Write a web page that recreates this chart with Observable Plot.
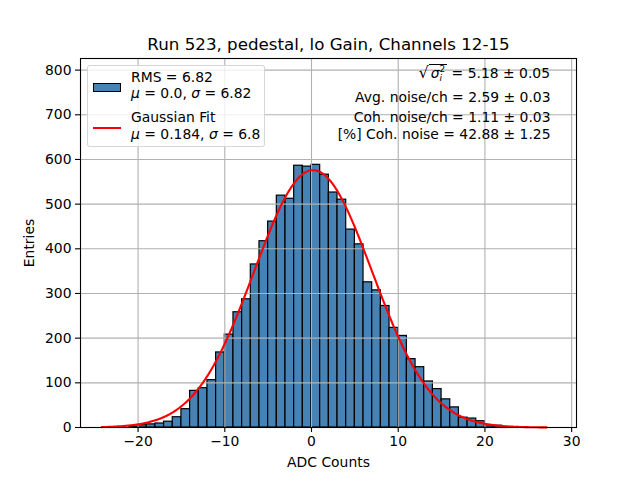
<!DOCTYPE html>
<html>
<head>
<meta charset="utf-8">
<script src="https://cdn.jsdelivr.net/npm/d3@7"></script>
<script src="https://cdn.jsdelivr.net/npm/@observablehq/plot@0.6"></script>
<style>
  html, body { margin: 0; padding: 0; background: white; }
  #wrap { position: relative; width: 640px; height: 480px; font-family: "DejaVu Sans", sans-serif; }
  #wrap svg { position: absolute; left: 0; top: 0; }
  .m { font-style: italic; }
  #legend { position: absolute; left: 87px; top: 65px; width: 178px; height: 82px;
            background: rgba(255,255,255,0.8); border: 1px solid rgba(204,204,204,0.8);
            border-radius: 3px; font-size: 13.9px; color: black; box-sizing: border-box; }
  #legend .t { position: absolute; left: 43px; line-height: 16px; white-space: nowrap; }
  #note1 { position: absolute; right: 90px; top: 62px; font-size: 13.9px; line-height: 22px; white-space: nowrap; }
</style>
</head>
<body>
<div id="wrap"></div>
<script>
// Histogram: lower edge of each 1-count-wide bin and its entries
const binLow = [-21,-20,-19,-18,-17,-16,-15,-14,-13,-12,-11,-10,-9,-8,-7,-6,-5,-4,-3,-2,-1,
                 0,1,2,3,4,5,6,7,8,9,10,11,12,13,14,15,16,17,18,19,20,21,22];
const entries = [2,5,7,9,13,23,41,82,88,106,168,208,258,287,365,417,461,519,512,586,584,
                 588,566,526,510,443,410,325,307,272,223,205,153,135,103,86,63,45,22,20,14,5,4,1];
const binWidth = 1;

// Gaussian fit parameters (from the legend) and amplitude
const fitMu = 0.184, fitSigma = 6.8, fitAmp = 576;
const fitXMin = -24.2, fitXMax = 27.1;

const xTicks = [-20, -10, 0, 10, 20, 30];
const yTicks = [0, 100, 200, 300, 400, 500, 600, 700, 800];

const titleText = "Run 523, pedestal, lo Gain, Channels 12-15";
const xLabel = "ADC Counts";
const yLabel = "Entries";
const noteLines = ["Avg. noise/ch = 2.59 ± 0.03", "Coh. noise/ch = 1.11 ± 0.03", "[%] Coh. noise = 42.88 ± 1.25"];

const bins = binLow.map((lo, i) => ({x1: lo, x2: lo + binWidth, y: entries[i]}));
const fitX = d3.range(fitXMin, fitXMax + 1e-9, 0.1);
const fit = fitX.map(x => ({x, y: fitAmp * Math.exp(-((x - fitMu) ** 2) / (2 * fitSigma ** 2))}));

const grid = "#b0b0b0";
const chart = Plot.plot({
  width: 640, height: 480,
  marginLeft: 80, marginRight: 64, marginTop: 58, marginBottom: 53,
  style: {fontFamily: "DejaVu Sans", fontSize: "13.9px", background: "white", color: "black"},
  x: {domain: [-26.64, 30.56]},
  y: {domain: [0, 826]},
  marks: [
    Plot.rectY(bins, {x1: "x1", x2: "x2", y: "y", fill: "#4682b4", stroke: "black", strokeWidth: 1.2}),
    Plot.gridX(xTicks, {stroke: grid, strokeOpacity: 1, strokeWidth: 1.1}),
    Plot.gridY(yTicks, {stroke: grid, strokeOpacity: 1, strokeWidth: 1.1}),
    Plot.line(fit, {x: "x", y: "y", stroke: "red", strokeWidth: 2.1}),
    Plot.axisX(xTicks, {tickSize: 5, tickPadding: 4, strokeWidth: 1.1, fontSize: 13.9,
      label: xLabel, labelAnchor: "center", labelArrow: "none", labelOffset: 39}),
    Plot.axisY(yTicks, {tickSize: 5, tickPadding: 4, strokeWidth: 1.1, fontSize: 13.9,
      label: yLabel, labelAnchor: "center", labelArrow: "none", labelOffset: 56}),
    Plot.frame({stroke: "black", strokeWidth: 1.1}),
    Plot.text([titleText], {frameAnchor: "top", lineAnchor: "middle", text: d => d, dy: -14, fontSize: 16.7}),
    Plot.text([noteLines[0]], {frameAnchor: "top-right", lineAnchor: "middle", text: d => d, dx: -26, dy: 39, textAnchor: "end", fontSize: 13.9}),
    Plot.text([noteLines[1]], {frameAnchor: "top-right", lineAnchor: "middle", text: d => d, dx: -26, dy: 59, textAnchor: "end", fontSize: 13.9}),
    Plot.text([noteLines[2]], {frameAnchor: "top-right", lineAnchor: "middle", text: d => d, dx: -26, dy: 76, textAnchor: "end", fontSize: 13.9})
  ]
});
const wrap = document.getElementById("wrap");
wrap.appendChild(chart);

const legend = document.createElement("div");
legend.id = "legend";
legend.innerHTML = `
  <div style="position:absolute;left:5px;top:17px;width:28px;height:9px;background:#4682b4;border:1.2px solid black;box-sizing:border-box"></div>
  <div class="t" style="top:3px">RMS = 6.82</div>
  <div class="t" style="top:19px"><span class="m">μ</span> = 0.0, <span class="m">σ</span> = 6.82</div>
  <div style="position:absolute;left:5px;top:61px;width:28px;height:2px;background:red"></div>
  <div class="t" style="top:43px">Gaussian Fit</div>
  <div class="t" style="top:60px"><span class="m">μ</span> = 0.184, <span class="m">σ</span> = 6.8</div>`;
wrap.appendChild(legend);

const note1 = document.createElement("div");
note1.id = "note1";
note1.innerHTML = `<span style="font-size:16px">√</span><span style="border-top:1px solid black;padding:0 2px"><span class="m">σ</span><span style="display:inline-block;vertical-align:middle;font-size:9px;line-height:9px;text-align:left"><span style="display:block">2</span><span class="m" style="display:block">i</span></span></span> = 5.18 ± 0.05`;
wrap.appendChild(note1);
</script>
</body>
</html>
